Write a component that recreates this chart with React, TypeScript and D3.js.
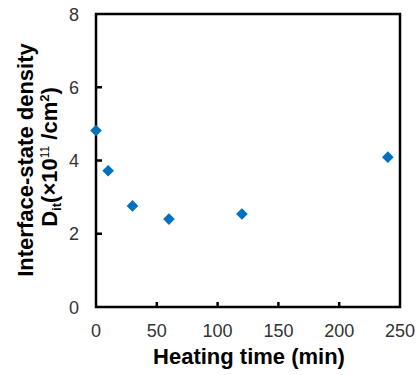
import React, { useRef, useEffect } from 'react'
import * as d3 from 'd3'

// Heating time (min) vs interface-state density (x1e11 /cm2)
const heatingTime = [0, 10, 30, 60, 120, 240]
const densityValues = [4.82, 3.72, 2.76, 2.4, 2.54, 4.09]
const xTicks = [0, 50, 100, 150, 200, 250]
const yTicks = [0, 2, 4, 6, 8]

const WIDTH = 417
const HEIGHT = 375
const MARKER = '#0070C0'
const TICK_TEXT = '#333333'

export default function App() {
  const svgRef = useRef<SVGSVGElement>(null)

  useEffect(() => {
    if (!svgRef.current) return
    const svg = d3.select(svgRef.current)
    svg.selectAll('*').remove()

    const plot = { left: 96, right: 400, top: 14, bottom: 307 }

    const x = d3.scaleLinear().domain([0, 250]).range([plot.left, plot.right])
    const y = d3.scaleLinear().domain([0, 8]).range([plot.bottom, plot.top])

    const g = svg.append('g')

    // frame
    g.append('rect')
      .attr('x', plot.left)
      .attr('y', plot.top)
      .attr('width', plot.right - plot.left)
      .attr('height', plot.bottom - plot.top)
      .attr('fill', 'none')
      .attr('stroke', '#000')
      .attr('stroke-width', 2.5)

    // inward ticks
    g.selectAll('.ytick')
      .data(yTicks.slice(1, -1))
      .enter().append('line')
      .attr('x1', plot.left)
      .attr('x2', plot.left + 6)
      .attr('y1', d => y(d))
      .attr('y2', d => y(d))
      .attr('stroke', '#000')
      .attr('stroke-width', 2.5)

    g.selectAll('.xtick')
      .data(xTicks.slice(1, -1))
      .enter().append('line')
      .attr('x1', d => x(d))
      .attr('x2', d => x(d))
      .attr('y1', plot.bottom)
      .attr('y2', plot.bottom - 5)
      .attr('stroke', '#000')
      .attr('stroke-width', 2.5)

    // tick labels
    g.selectAll('.ylabel')
      .data(yTicks)
      .enter().append('text')
      .attr('x', 79)
      .attr('y', d => y(d) + 6.5)
      .attr('text-anchor', 'end')
      .style('font-size', '18px')
      .style('font-family', 'Arial, "Liberation Sans", sans-serif')
      .style('fill', TICK_TEXT)
      .text(d => d)

    g.selectAll('.xlabel')
      .data(xTicks)
      .enter().append('text')
      .attr('x', d => x(d))
      .attr('y', 337)
      .attr('text-anchor', 'middle')
      .style('font-size', '18px')
      .style('font-family', 'Arial, "Liberation Sans", sans-serif')
      .style('fill', TICK_TEXT)
      .text(d => d)

    // axis titles
    g.append('text')
      .attr('x', 249)
      .attr('y', 364)
      .attr('text-anchor', 'middle')
      .style('font-size', '22px')
      .style('font-weight', 'bold')
      .style('font-family', 'Arial, "Liberation Sans", sans-serif')
      .text('Heating time (min)')

    const yTitle = g.append('g')
      .attr('transform', 'translate(0,160) rotate(-90)')
      .style('font-family', 'Arial, "Liberation Sans", sans-serif')
      .style('font-weight', 'bold')
      .style('font-size', '22px')

    yTitle.append('text')
      .attr('x', 0)
      .attr('y', 33)
      .attr('text-anchor', 'middle')
      .text('Interface-state density')

    const line2 = yTitle.append('text')
      .attr('x', 3)
      .attr('y', 57)
      .attr('text-anchor', 'middle')
    line2.append('tspan').text('D')
    line2.append('tspan').attr('dy', 4).style('font-size', '13px').text('it')
    line2.append('tspan').attr('dy', -4).text('(×10')
    line2.append('tspan').attr('dy', -8).style('font-size', '12px').style('font-weight', 'normal').text('11')
    line2.append('tspan').attr('dy', 8).text(' /cm')
    line2.append('tspan').attr('dy', -8).style('font-size', '13px').text('2')
    line2.append('tspan').attr('dy', 8).text(')')

    // data markers
    const diamond = d3.symbol().type(d3.symbolSquare).size(68)
    g.selectAll('.pt')
      .data(heatingTime.map((t, i) => ({ t, v: densityValues[i] })))
      .enter().append('path')
      .attr('d', diamond() as string)
      .attr('transform', d => `translate(${x(d.t)},${y(d.v)}) rotate(45)`)
      .attr('fill', MARKER)
  }, [])

  return (
    <svg
      ref={svgRef}
      width={WIDTH}
      height={HEIGHT}
      style={{ position: 'absolute', left: 0, top: 0, background: '#fff' }}
    />
  )
}
